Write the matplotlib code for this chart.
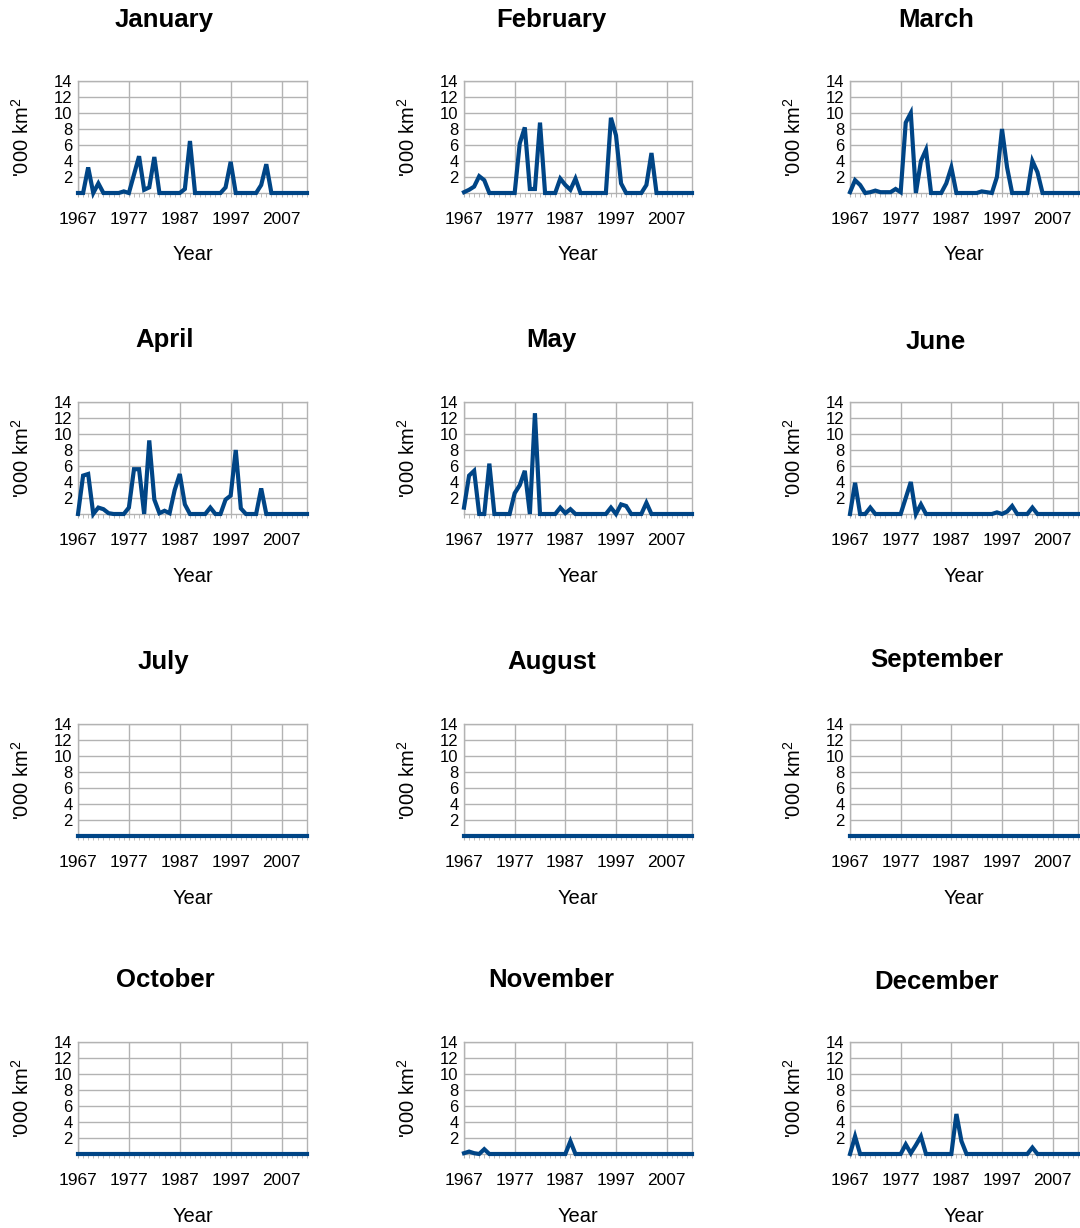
import matplotlib
matplotlib.use("Agg")
import matplotlib.pyplot as plt
from matplotlib.ticker import MultipleLocator, FixedLocator

plt.rcParams['font.family'] = ['Liberation Sans', 'DejaVu Sans']
plt.rcParams['mathtext.fontset'] = 'custom'
plt.rcParams['mathtext.rm'] = 'Liberation Sans'
plt.rcParams['mathtext.it'] = 'Liberation Sans:italic'

years = list(range(1967, 2013))
month_names = ["January", "February", "March", "April", "May", "June",
               "July", "August", "September", "October", "November", "December"]

jan = [0,0,3.2,0,1.2,0,0,0,0,0.2, 0,2.3,4.6,0.4,0.7,4.5,0,0,0,0,
       0,0.5,6.5,0,0,0,0,0,0,0.7, 3.9,0,0,0,0,0,1.0,3.6,0,0, 0,0,0,0,0,0]
feb = [0.1,0.4,0.8,2.1,1.6,0,0,0,0,0, 0,6.2,8.2,0.5,0.5,8.8,0,0,0,1.8,
       1.0,0.4,1.8,0,0,0,0,0,0,9.4, 7.2,1.2,0,0,0,0,1.0,5.0,0,0, 0,0,0,0,0,0]
mar = [0.1,1.6,1.0,0,0.1,0.3,0.1,0.1,0.1,0.5, 0.1,8.8,10.0,0,4.0,5.4,0,0,0,1.2,
       3.2,0,0,0,0,0,0.2,0.1,0,2.0, 8.0,3.2,0,0,0,0,4.0,2.6,0,0, 0,0,0,0,0,0]
apr = [0,4.8,5.0,0,0.8,0.6,0.1,0,0,0, 0.8,5.6,5.6,0,9.2,1.8,0.1,0.4,0.1,3.0,
       5.0,1.2,0,0,0,0,0.8,0,0,1.8, 2.3,8.0,0.7,0,0,0,3.2,0,0,0, 0,0,0,0,0,0]
may = [0.8,4.8,5.4,0,0,6.3,0,0,0,0, 2.6,3.6,5.4,0,12.6,0,0,0,0,0.8,
       0.1,0.6,0,0,0,0,0,0,0,0.8, 0,1.2,1.0,0,0,0,1.4,0,0,0, 0,0,0,0,0,0]
jun = [0,3.9,0,0,0.8,0,0,0,0,0, 0,2.0,4.0,0,1.2,0,0,0,0,0,
       0,0,0,0,0,0,0,0,0,0.2, 0,0.3,1.0,0,0,0,0.8,0,0,0, 0,0,0,0,0,0]
jul = [0] * 46
aug = [0] * 46
sep = [0] * 46
oct_ = [0] * 46
nov = [0.1,0.3,0.1,0,0.6,0,0,0,0,0, 0,0,0,0,0,0,0,0,0,0,
       0,1.6,0,0,0,0,0,0,0,0, 0,0,0,0,0,0,0,0,0,0, 0,0,0,0,0,0]
dec = [0,2.2,0,0,0,0,0,0,0,0, 0,1.2,0.1,1.1,2.2,0,0,0,0,0,
       0,5.0,1.6,0,0,0,0,0,0,0, 0,0,0,0,0,0,0.8,0,0,0, 0,0,0,0,0,0]
series = [jan, feb, mar, apr, may, jun, jul, aug, sep, oct_, nov, dec]

x_ticks = [1967, 1977, 1987, 1997, 2007]
y_ticks = [2, 4, 6, 8, 10, 12, 14]

W, H = 1080, 1228
fig = plt.figure(figsize=(W / 100, H / 100), dpi=100)

col_left = [78, 464, 850]
col_w = [229, 228, 228]
row_top = [81, 402, 724, 1042]
row_h = 112
title_pos = [(164, 20), (551, 20), (936, 20),
             (165, 340), (551, 340), (936, 342),
             (163, 662), (552, 662), (937, 660),
             (165, 980), (551, 980), (937, 982)]

line_color = '#004586'
grid_color = '#b3b3b3'

for i, (name, vals) in enumerate(zip(month_names, series)):
    r, c = divmod(i, 3)
    left = col_left[c]
    w = col_w[c]
    top = row_top[r]
    ax = fig.add_axes([left / W, 1 - (top + row_h) / H, w / W, row_h / H])
    ax.set_xlim(1967, 2012)
    ax.set_ylim(0, 14)
    ax.xaxis.set_major_locator(FixedLocator(x_ticks))
    ax.xaxis.set_minor_locator(MultipleLocator(1))
    ax.yaxis.set_major_locator(FixedLocator(y_ticks))
    ax.grid(True, which='major', color=grid_color, lw=1.0)
    ax.set_axisbelow(True)
    for s in ax.spines.values():
        s.set_color(grid_color)
        s.set_linewidth(1.0)
    ax.tick_params(axis='x', which='both', direction='out', length=3,
                   color=grid_color, pad=11, labelsize=12.5, labelcolor='black')
    ax.tick_params(axis='y', which='both', length=0, pad=4, labelsize=12)
    ax.plot(years, vals, color=line_color, lw=3.0, clip_on=False,
            solid_joinstyle='miter', zorder=5)
    ax.set_xlabel('Year', fontsize=14.5, labelpad=13)
    ax.text(-0.245, 0.5, "'000 km$^{2}$", transform=ax.transAxes,
            rotation=90, ha='center', va='center', fontsize=14.5)
    tx, ty = title_pos[i]
    fig.text(tx / W, 1 - ty / H, name, ha='center', va='center',
             fontsize=18.5, fontweight='bold')

fig.savefig('out.png', dpi=100, facecolor='white')
